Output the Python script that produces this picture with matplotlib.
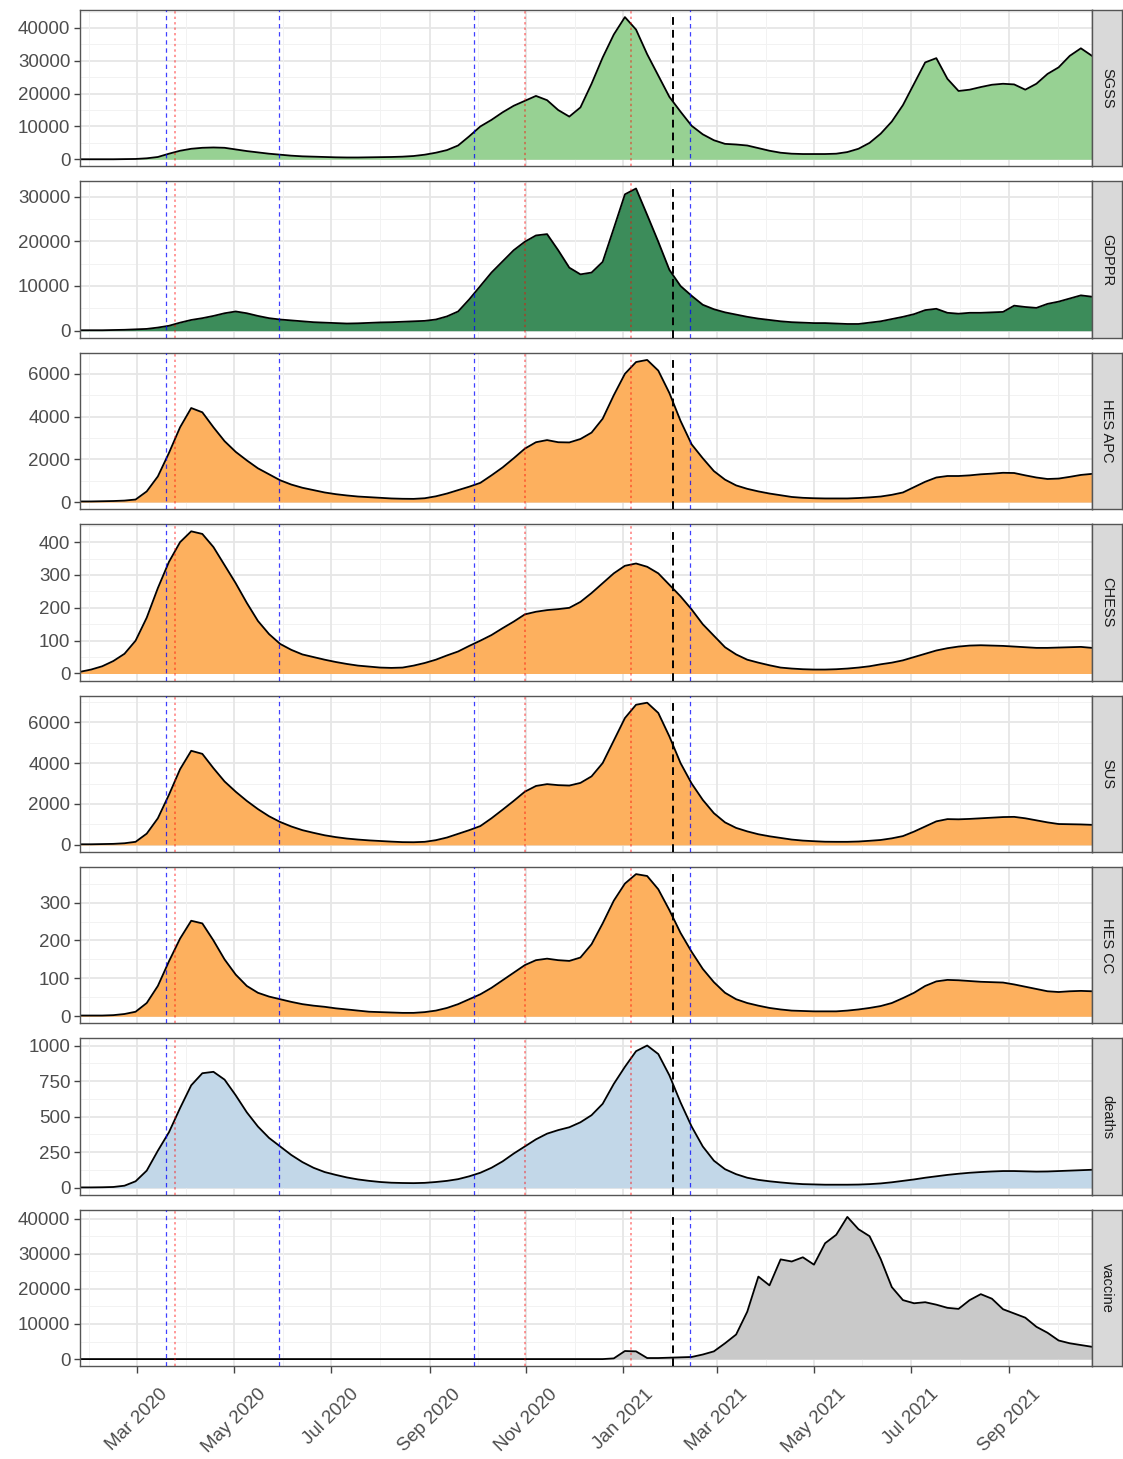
import numpy as np
import matplotlib
matplotlib.use("Agg")
import matplotlib.pyplot as plt
import matplotlib.dates as mdates

plt.rcParams["font.family"] = ["Liberation Sans", "DejaVu Sans"]

# weekly grid, values
dates = np.arange(np.datetime64("2020-01-25"), np.datetime64("2021-10-24"), np.timedelta64(7, "D"))

sgss = [0, 0, 0, 0, 50, 100, 300, 700, 1700, 2600,
        3200, 3500, 3600, 3500, 3000, 2500, 2100, 1700, 1400, 1100,
        900, 800, 700, 600, 550, 550, 600, 650, 700, 800,
        1000, 1400, 2000, 2800, 4200, 7000, 10000, 12000, 14300, 16300,
        17800, 19300, 18000, 15000, 13000, 15800, 23000, 31000, 38000, 43300,
        39500, 32000, 25500, 19000, 14500, 10200, 7600, 5800, 4700, 4500,
        4200, 3400, 2600, 2000, 1700, 1600, 1600, 1600, 1700, 2200,
        3200, 5000, 7800, 11500, 16500, 23000, 29500, 30800, 24500, 20800,
        21200, 22000, 22700, 23000, 22800, 21200, 23000, 26000, 28000, 31500,
        33800, 31500]

gdppr = [100, 100, 100, 150, 200, 300, 400, 700, 1100, 1800,
         2400, 2800, 3300, 3900, 4300, 3900, 3300, 2800, 2500, 2300,
         2100, 1900, 1800, 1700, 1600, 1650, 1750, 1850, 1900, 2000,
         2100, 2200, 2500, 3200, 4300, 7000, 10000, 13000, 15500, 18000,
         19900, 21300, 21600, 18000, 14100, 12600, 13000, 15400, 22900, 30500,
         31800, 25900, 19900, 13600, 10000, 7800, 5800, 4800, 4100, 3600,
         3100, 2700, 2400, 2100, 1900, 1800, 1700, 1700, 1600, 1500,
         1500, 1800, 2100, 2600, 3100, 3700, 4600, 4900, 4000, 3800,
         4000, 4000, 4100, 4200, 5600, 5300, 5100, 6000, 6500, 7200,
         7900, 7600]

hes_apc = [30, 30, 40, 50, 70, 120, 500, 1200, 2300, 3500,
           4400, 4200, 3500, 2850, 2350, 1950, 1580, 1300, 1020, 820,
           670, 560, 450, 370, 310, 260, 230, 200, 170, 155,
           150, 180, 270, 400, 560, 720, 900, 1250, 1620, 2050,
           2500, 2800, 2900, 2800, 2790, 2950, 3250, 3900, 5000, 6000,
           6550, 6650, 6150, 5100, 3800, 2700, 2050, 1450, 1050, 780,
           620, 500, 400, 320, 240, 200, 180, 170, 170, 170,
           190, 220, 260, 340, 450, 700, 950, 1150, 1220, 1220,
           1250, 1300, 1330, 1370, 1360, 1250, 1150, 1080, 1100, 1180,
           1270, 1320]

chess = [5, 12, 22, 38, 60, 100, 170, 260, 340, 400,
         433, 425, 385, 330, 275, 215, 160, 120, 90, 72,
         58, 50, 42, 35, 29, 24, 21, 18, 17, 18,
         24, 32, 42, 55, 67, 84, 100, 117, 138, 158,
         180, 188, 193, 196, 200, 218, 245, 275, 305, 328,
         335, 325, 305, 270, 235, 195, 150, 115, 80, 58,
         42, 33, 25, 18, 15, 13, 12, 12, 13, 15,
         18, 22, 28, 33, 40, 50, 60, 70, 77, 82,
         85, 86, 85, 84, 82, 80, 78, 78, 79, 80,
         81, 78]

sus = [30, 30, 40, 50, 80, 150, 550, 1300, 2450, 3700,
       4600, 4450, 3750, 3100, 2600, 2150, 1750, 1400, 1120, 900,
       720, 590, 470, 380, 310, 260, 220, 190, 160, 135,
       130, 150, 230, 360, 540, 720, 920, 1300, 1720, 2150,
       2600, 2880, 2970, 2920, 2900, 3030, 3350, 4000, 5100, 6200,
       6850, 6950, 6450, 5300, 4000, 3000, 2200, 1550, 1100, 830,
       660, 520, 420, 340, 260, 210, 180, 155, 150, 150,
       165, 200, 240, 320, 430, 650, 900, 1150, 1260, 1250,
       1270, 1300, 1330, 1360, 1370, 1300, 1200, 1100, 1020, 1010,
       1000, 980]

hes_cc = [2, 2, 2, 3, 6, 12, 35, 80, 145, 205,
          252, 245, 200, 150, 110, 80, 62, 52, 45, 38,
          32, 28, 25, 21, 18, 15, 12, 11, 10, 9,
          9, 11, 15, 22, 32, 45, 58, 75, 95, 115,
          135, 148, 152, 148, 146, 155, 190, 245, 305, 350,
          375, 370, 335, 280, 220, 170, 125, 90, 62, 45,
          35, 28, 22, 18, 15, 14, 13, 13, 13, 15,
          18, 22, 27, 35, 48, 62, 80, 92, 96, 95,
          93, 91, 90, 89, 84, 78, 72, 66, 64, 66,
          67, 66]

deaths = [2, 2, 3, 5, 14, 45, 120, 260, 390, 560,
          720, 805, 815, 760, 650, 530, 430, 350, 290, 230,
          180, 140, 110, 90, 72, 58, 48, 40, 35, 33,
          32, 34, 40, 48, 60, 80, 105, 140, 185, 240,
          290, 340, 380, 405, 425, 460, 510, 590, 730, 850,
          960, 1000, 940, 790, 600, 430, 290, 190, 130, 95,
          70, 55, 45, 37, 30, 25, 23, 21, 21, 21,
          22, 25, 30, 38, 48, 58, 70, 80, 90, 98,
          105, 110, 114, 117, 117, 115, 113, 114, 117, 120,
          123, 126]

vaccine = [0] * 48 + [200, 2300,
           2200, 300, 300, 400, 500, 600, 1300, 2200, 4500, 7000,
           13500, 23500, 21000, 28400, 27800, 29000, 26900, 33000, 35400, 40500,
           37000, 35000, 28500, 20500, 16800, 15900, 16200, 15500, 14600, 14300,
           16800, 18500, 17200, 14200, 13000, 11800, 9200, 7500, 5300, 4500,
           4000, 3500]

names = ["SGSS", "GDPPR", "HES APC", "CHESS", "SUS", "HES CC", "deaths", "vaccine"]
series = [sgss, gdppr, hes_apc, chess, sus, hes_cc, deaths, vaccine]
fills = ["#97d193", "#3c8c5a", "#fdb05e", "#fdb05e", "#fdb05e", "#fdb05e", "#c2d7e8", "#c9c9c9"]
yticks = [[0, 10000, 20000, 30000, 40000],
          [0, 10000, 20000, 30000],
          [0, 2000, 4000, 6000],
          [0, 100, 200, 300, 400],
          [0, 2000, 4000, 6000],
          [0, 100, 200, 300],
          [0, 250, 500, 750, 1000],
          [0, 10000, 20000, 30000, 40000]]

blue_dates = ["2020-03-19", "2020-05-29", "2020-09-29", "2021-02-12"]
red_dates = ["2020-03-25", "2020-10-31", "2021-01-06"]
black_date = "2021-02-01"

xticks = ["2020-03-01", "2020-05-01", "2020-07-01", "2020-09-01", "2020-11-01",
          "2021-01-01", "2021-03-01", "2021-05-01", "2021-07-01", "2021-09-01"]

W, H = 1123, 1459
fig = plt.figure(figsize=(W / 100, H / 100), dpi=100)

x = mdates.date2num(dates.astype("datetime64[D]").astype(object))
xmaj = mdates.date2num([np.datetime64(d).astype(object) for d in xticks])
step = np.diff(xmaj).mean()
xmin_ = np.concatenate([[xmaj[0] - step / 2], (xmaj[:-1] + xmaj[1:]) / 2, [xmaj[-1] + step / 2]])

ph, gap, top0 = 156.4, 15.0, 10.0
for i, (name, vals, col, yt) in enumerate(zip(names, series, fills, yticks)):
    top = top0 + i * (ph + gap)
    rect = [80 / W, 1 - (top + ph) / H, 1012 / W, ph / H]
    ax = fig.add_axes(rect)
    vals = np.array(vals, dtype=float)
    vmax = vals.max()
    ax.set_ylim(-0.05 * vmax, 1.05 * vmax)
    ax.set_xlim(x[0], x[-1])

    ys = yt[1] - yt[0]
    ymin_ = np.arange(yt[0] - ys / 2, yt[-1] + ys, ys)
    ymin_ = ymin_[(ymin_ > -0.05 * vmax) & (ymin_ < 1.05 * vmax)]
    for v in ymin_:
        ax.axhline(v, color="#f2f2f2", lw=0.7, zorder=0)
    for v in yt:
        ax.axhline(v, color="#e6e6e6", lw=1.3, zorder=0)
    for v in xmin_:
        ax.axvline(v, color="#f2f2f2", lw=0.7, zorder=0)
    for v in xmaj:
        ax.axvline(v, color="#e6e6e6", lw=1.3, zorder=0)

    ax.fill_between(x, 0, vals, color=col, lw=0, zorder=1)
    ax.plot(x, vals, color="black", lw=1.3, zorder=2)

    for d in blue_dates:
        ax.axvline(mdates.datestr2num(d), color="blue", alpha=0.75, lw=0.9,
                   dashes=(3.5, 3), zorder=3)
    for d in red_dates:
        ax.axvline(mdates.datestr2num(d), color="red", alpha=0.4, lw=1.4,
                   ls=(0, (1.2, 1.6)), zorder=3)
    ax.axvline(mdates.datestr2num(black_date), ymax=0.97, color="black", lw=1.4,
               dashes=(4, 2.6), zorder=4)

    ax.set_yticks(yt)
    ax.set_yticklabels([str(v) for v in yt], fontsize=13.5, color="#4d4d4d")
    ax.tick_params(axis="y", length=4, width=1, color="#444444", pad=3)
    ax.set_xticks(xmaj)
    if i == len(names) - 1:
        ax.set_xticklabels([np.datetime64(d).astype(object).strftime("%b %Y") for d in xticks],
                           rotation=45, ha="center", va="top",
                           fontsize=13.5, color="#4d4d4d")
        ax.tick_params(axis="x", length=5, width=1, color="#444444", pad=9)
    else:
        ax.tick_params(axis="x", length=0, labelbottom=False)
    for s in ax.spines.values():
        s.set_color("#555555")
        s.set_linewidth(1.0)
    ax.set_facecolor("white")

    sax = fig.add_axes([1092 / W, rect[1], 30 / W, rect[3]])
    sax.set_facecolor("#d9d9d9")
    sax.set_xticks([])
    sax.set_yticks([])
    for s in sax.spines.values():
        s.set_color("#555555")
        s.set_linewidth(1.0)
    sax.text(0.5, 0.5, name, rotation=-90, ha="center", va="center",
             fontsize=10.5, color="#1a1a1a", transform=sax.transAxes)

fig.savefig("out.png", dpi=100)
